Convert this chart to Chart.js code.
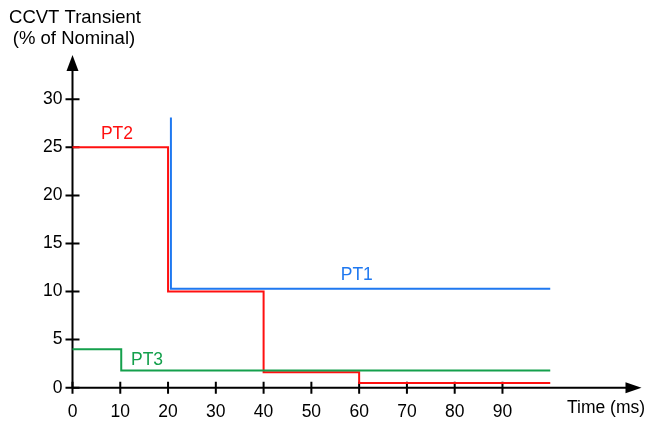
<!DOCTYPE html>
<html><head><meta charset="utf-8">
<script src="https://cdn.jsdelivr.net/npm/chart.js@4"></script>
<style>html,body{margin:0;padding:0;background:#fff}#wrap{width:649px;height:421px}</style>
</head><body><div id="wrap"><canvas id="c" width="649" height="421"></canvas></div>
<script>
// Data (time in ms, value in % of nominal)
const pt1X = [20.6, 20.6, 100];
const pt1Y = [28.1, 10.3, 10.3];
const pt2X = [0, 20, 40, 60, 100];
const pt2Y = [25, 10, 1.6, 0.5, 0.5];
const pt3X = [0, 10.2, 100];
const pt3Y = [4, 1.8, 1.8];
const xTicks = [0, 10, 20, 30, 40, 50, 60, 70, 80, 90];
const yTicks = [0, 5, 10, 15, 20, 25, 30];
const seriesNames = ['PT1', 'PT2', 'PT3'];
const seriesColors = ['#1f78f0', '#ff1010', '#14a04c'];
const labelX = [59.5, 9.3, 15.6];
const labelY = [11.7, 26.4, 2.9];
const yTitle = ['CCVT Transient', '(% of Nominal)'];
const xTitle = 'Time (ms)';

const pts = (xs, ys) => xs.map((x, i) => ({x, y: ys[i]}));
const FONT = '17.5px "Liberation Sans", Arial, sans-serif';
const TFONT = '18.5px "Liberation Sans", Arial, sans-serif';

const axesPlugin = {
  id: 'axes',
  beforeDatasetsDraw(chart) {
    const {ctx, scales: {x, y}, chartArea: a} = chart;
    const x0 = x.getPixelForValue(0), y0 = y.getPixelForValue(0);
    ctx.save();
    ctx.strokeStyle = '#000'; ctx.fillStyle = '#000'; ctx.lineWidth = 2;
    ctx.beginPath();
    ctx.moveTo(x0, y0); ctx.lineTo(x0, a.top + 12);
    ctx.moveTo(x0, y0); ctx.lineTo(a.right - 12, y0);
    ctx.stroke();
    ctx.beginPath();
    ctx.moveTo(x0, a.top); ctx.lineTo(x0 - 6, a.top + 16); ctx.lineTo(x0 + 6, a.top + 16); ctx.closePath(); ctx.fill();
    ctx.beginPath();
    ctx.moveTo(a.right, y0); ctx.lineTo(a.right - 16, y0 - 5.5); ctx.lineTo(a.right - 16, y0 + 5.5); ctx.closePath(); ctx.fill();
    ctx.beginPath();
    yTicks.forEach(v => { const p = y.getPixelForValue(v); ctx.moveTo(x0 - 7, p); ctx.lineTo(x0 + 7, p); });
    xTicks.forEach(v => { const p = x.getPixelForValue(v); ctx.moveTo(p, y0 - 6); ctx.lineTo(p, y0 + 6); });
    ctx.stroke();
    ctx.font = FONT;
    ctx.textAlign = 'right'; ctx.textBaseline = 'middle';
    yTicks.forEach(v => ctx.fillText(String(v), x0 - 10, y.getPixelForValue(v)));
    ctx.textAlign = 'center'; ctx.textBaseline = 'top';
    xTicks.forEach(v => ctx.fillText(String(v), x.getPixelForValue(v), y0 + 16));
    ctx.font = TFONT;
    ctx.textAlign = 'center'; ctx.textBaseline = 'middle';
    ctx.fillText(yTitle[0], 75, 18);
    ctx.fillText(yTitle[1], 74, 39);
    ctx.font = FONT;
    ctx.textAlign = 'left';
    ctx.fillText(xTitle, 567, 408);
    ctx.restore();
  },
  afterDatasetsDraw(chart) {
    const {ctx, scales: {x, y}} = chart;
    ctx.save();
    ctx.font = FONT; ctx.textAlign = 'center'; ctx.textBaseline = 'middle';
    seriesNames.forEach((n, i) => {
      ctx.fillStyle = seriesColors[i];
      ctx.fillText(n, x.getPixelForValue(labelX[i]), y.getPixelForValue(labelY[i]));
    });
    ctx.restore();
  }
};

new Chart(document.getElementById('c'), {
  type: 'line',
  data: {
    datasets: [
      {label: seriesNames[0], data: pts(pt1X, pt1Y), borderColor: seriesColors[0]},
      {label: seriesNames[2], data: pts(pt3X, pt3Y), borderColor: seriesColors[2]},
      {label: seriesNames[1], data: pts(pt2X, pt2Y), borderColor: seriesColors[1]}
    ].map(d => Object.assign(d, {stepped: 'before', borderWidth: 2, pointRadius: 0, fill: false, clip: false}))
  },
  options: {
    responsive: false, animation: false, devicePixelRatio: 1,
    layout: {padding: {left: 72.5, right: 7.5, top: 55, bottom: 33.3}},
    plugins: {legend: {display: false}, tooltip: {enabled: false}},
    scales: {
      x: {type: 'linear', min: 0, max: 119.1, display: false},
      y: {type: 'linear', min: 0, max: 34.6, display: false}
    }
  },
  plugins: [axesPlugin]
});
</script></body></html>
